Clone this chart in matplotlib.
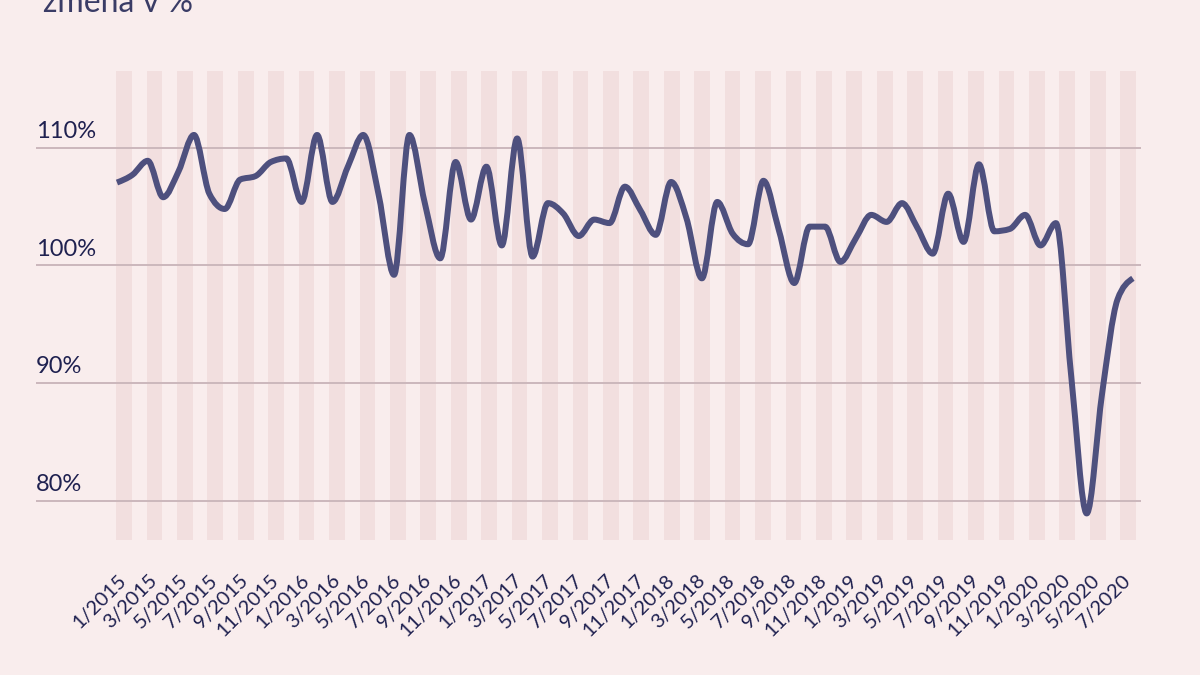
import numpy as np
import matplotlib.pyplot as plt
from matplotlib.path import Path
from matplotlib.patches import PathPatch

plt.rcParams['font.family'] = ['Lato', 'DejaVu Sans']

# monthly values, 1/2015 .. 7/2020 (index vs. same month previous year, %)
values = [
    107.05, 107.7, 108.9, 105.8, 108.0, 111.1, 106.1, 104.8, 107.3, 107.6, 108.8, 109.1,
    105.4, 111.1, 105.4, 108.4, 111.1, 106.0, 99.2, 111.1, 105.3, 100.6, 108.8, 103.9,
    108.4, 101.7, 110.8, 100.75, 105.3, 104.4, 102.5, 103.9, 103.6, 106.7, 104.7, 102.6,
    107.1, 104.0, 98.9, 105.4, 102.7, 101.8, 107.2, 103.0, 98.5, 103.3, 103.3, 100.3,
    102.3, 104.3, 103.7, 105.3, 103.2, 101.0, 106.1, 102.0, 108.6, 102.9, 103.1, 104.3,
    101.7, 103.6, 90.5, 78.9, 89.1, 97.1, 98.9,
]
tick_labels = [f"{m}/{y}" for y in range(2015, 2021) for m in (1, 3, 5, 7, 9, 11)][:34]
y_ticks = [80, 90, 100, 110]
y_tick_labels = ["80%", "90%", "100%", "110%"]
title = "změna v %"

bg = "#f9eded"
stripe = "#f2dfdf"
grid_c = "#cbb7bc"
line_c = "#4e507e"
text_c = "#1f2150"

fig = plt.figure(figsize=(12, 6.75), dpi=100, facecolor=bg)
ax = fig.add_axes([0.03, 0.2, 0.921, 0.695])
ax.set_facecolor(bg)

x = np.arange(len(values), dtype=float)
y = np.array(values, dtype=float)

# shaded bands, one per labelled (odd) month
centers = np.linspace(0.455, 65.69, len(tick_labels))
for c in centers:
    ax.axvspan(c - 0.51, c + 0.51, color=stripe, lw=0, zorder=0)

for v in y_ticks:
    ax.axhline(v, color=grid_c, lw=1.4, zorder=1)

# monotone-x cubic path (like d3 curveMonotoneX)
n = len(x)
h = np.diff(x)
s = np.diff(y) / h
t = np.zeros(n)
for k in range(1, n - 1):
    s0, s1 = s[k - 1], s[k]
    p = (s0 * h[k] + s1 * h[k - 1]) / (h[k - 1] + h[k])
    t[k] = (np.sign(s0) + np.sign(s1)) * min(abs(s0), abs(s1), 0.5 * abs(p))
t[0] = (3 * s[0] - t[1]) / 2
t[-1] = (3 * s[-1] - t[-2]) / 2
verts = [(x[0], y[0])]
codes = [Path.MOVETO]
for k in range(n - 1):
    dx = h[k] / 3
    verts += [(x[k] + dx, y[k] + dx * t[k]),
              (x[k + 1] - dx, y[k + 1] - dx * t[k + 1]),
              (x[k + 1], y[k + 1])]
    codes += [Path.CURVE4] * 3
ax.add_patch(PathPatch(Path(verts, codes), fill=False, ec=line_c, lw=4.3,
                       capstyle='butt', joinstyle='round', zorder=3))

ax.set_xlim(-5.26, 66.54)
ax.set_ylim(76.64, 116.55)

for v, lab in zip(y_ticks, y_tick_labels):
    ax.annotate(lab, xy=(0, v), xycoords=('axes fraction', 'data'),
                xytext=(0, 4), textcoords='offset points',
                ha='left', va='bottom', fontsize=17, color=text_c)

ax.set_yticks([])
ax.set_xticks(centers)
ax.set_xticklabels(tick_labels, rotation=45, ha='right', va='center',
                   rotation_mode='anchor', fontsize=14.5, color=text_c)
ax.tick_params(axis='x', length=0, pad=27)
for sp in ax.spines.values():
    sp.set_visible(False)

fig.text(43 / 1200, 1 - 12 / 675, title, fontsize=23, color="#3a3c66",
         ha='left', va='baseline')

fig.savefig("out.png", dpi=100, facecolor=bg)
